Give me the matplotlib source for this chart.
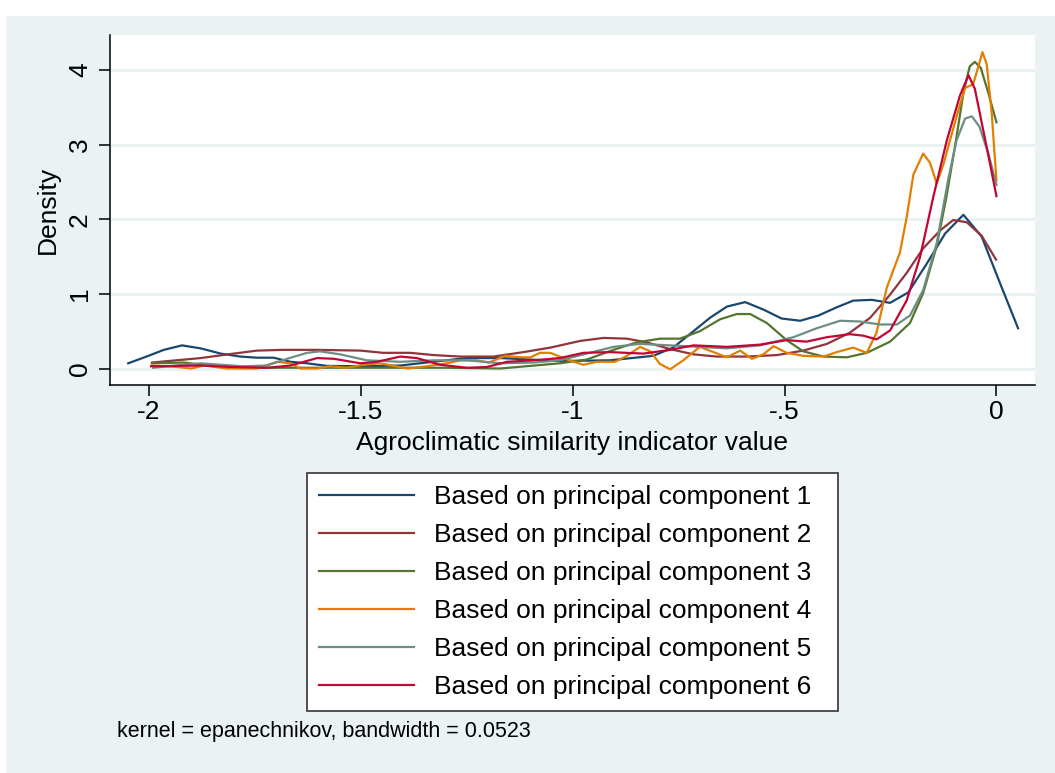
import matplotlib.pyplot as plt
from matplotlib.patches import Rectangle

plt.rcParams['font.family'] = ['Liberation Sans', 'DejaVu Sans']

# kernel density estimates, one per principal component
pc1_x = [-2.049, -2.006, -1.965, -1.922, -1.878, -1.831, -1.784, -1.745, -1.706, -1.666,
         -1.627, -1.58, -1.50, -1.407, -1.33, -1.25, -1.17, -1.10, -1.03, -0.912,
         -0.81, -0.763, -0.715, -0.676, -0.636, -0.593, -0.55, -0.507, -0.463, -0.42,
         -0.377, -0.338, -0.294, -0.251, -0.208, -0.165, -0.121, -0.078, -0.035, 0.008, 0.051]
pc1_y = [0.07, 0.16, 0.25, 0.31, 0.27, 0.20, 0.16, 0.145, 0.145, 0.09,
         0.07, 0.035, 0.03, 0.04, 0.09, 0.14, 0.14, 0.12, 0.10, 0.11,
         0.17, 0.28, 0.50, 0.68, 0.83, 0.89, 0.79, 0.67, 0.64, 0.71,
         0.82, 0.91, 0.92, 0.88, 1.02, 1.40, 1.81, 2.06, 1.77, 1.15, 0.54]

pc2_x = [-1.993, -1.878, -1.80, -1.745, -1.683, -1.603, -1.501, -1.447, -1.383, -1.328,
         -1.265, -1.187, -1.116, -1.053, -0.982, -0.927, -0.872, -0.825, -0.77, -0.715,
         -0.66, -0.589, -0.518, -0.456, -0.40, -0.346, -0.298, -0.251, -0.212, -0.173,
         -0.133, -0.102, -0.07, -0.035, -0.001]
pc2_y = [0.08, 0.14, 0.20, 0.24, 0.25, 0.25, 0.24, 0.21, 0.21, 0.18,
         0.16, 0.16, 0.22, 0.28, 0.37, 0.41, 0.40, 0.35, 0.26, 0.19,
         0.16, 0.16, 0.18, 0.24, 0.33, 0.48, 0.68, 0.99, 1.28, 1.61,
         1.85, 1.99, 1.96, 1.78, 1.46]

pc3_x = [-1.993, -1.918, -1.816, -1.70, -1.55, -1.40, -1.30, -1.171, -1.07, -1.03,
         -0.967, -0.904, -0.849, -0.794, -0.747, -0.70, -0.652, -0.613, -0.581, -0.542,
         -0.495, -0.456, -0.408, -0.353, -0.306, -0.251, -0.204, -0.173, -0.141, -0.118,
         -0.098, -0.078, -0.063, -0.051, -0.037, -0.019, 0.0]
pc3_y = [0.07, 0.08, 0.01, 0.01, 0.01, 0.01, 0.01, 0.0, 0.05, 0.07,
         0.12, 0.25, 0.35, 0.40, 0.40, 0.50, 0.66, 0.73, 0.73, 0.61,
         0.38, 0.23, 0.16, 0.15, 0.21, 0.36, 0.61, 1.01, 1.64, 2.30,
         2.97, 3.69, 4.05, 4.11, 4.03, 3.69, 3.30]

pc4_x = [-1.993, -1.933, -1.90, -1.87, -1.816, -1.745, -1.698, -1.666, -1.643, -1.603,
         -1.573, -1.533, -1.494, -1.455, -1.39, -1.344, -1.297, -1.265, -1.226, -1.198,
         -1.159, -1.124, -1.10, -1.077, -1.053, -1.013, -0.975, -0.943, -0.90, -0.872,
         -0.841, -0.817, -0.794, -0.77, -0.739, -0.70, -0.668, -0.636, -0.605, -0.577,
         -0.55, -0.526, -0.495, -0.456, -0.408, -0.377, -0.338, -0.306, -0.283, -0.259,
         -0.228, -0.212, -0.196, -0.173, -0.157, -0.141, -0.125, -0.11, -0.09, -0.074,
         -0.055, -0.043, -0.033, -0.023, -0.011, 0.0]
pc4_y = [0.04, 0.02, 0.0, 0.04, 0.0, 0.0, 0.09, 0.07, 0.0, 0.0,
         0.03, 0.01, 0.05, 0.07, 0.0, 0.03, 0.07, 0.11, 0.11, 0.08,
         0.17, 0.15, 0.15, 0.21, 0.21, 0.12, 0.05, 0.09, 0.09, 0.17,
         0.29, 0.23, 0.06, -0.01, 0.11, 0.29, 0.22, 0.15, 0.24, 0.13,
         0.19, 0.30, 0.21, 0.17, 0.16, 0.22, 0.28, 0.21, 0.48, 1.08,
         1.55, 2.02, 2.60, 2.88, 2.76, 2.48, 2.74, 3.05, 3.46, 3.76,
         3.81, 4.04, 4.24, 4.08, 3.41, 2.52]

pc5_x = [-1.99, -1.878, -1.78, -1.722, -1.674, -1.627, -1.596, -1.549, -1.486, -1.407,
         -1.329, -1.25, -1.17, -1.093, -1.03, -0.967, -0.904, -0.841, -0.77, -0.70,
         -0.636, -0.558, -0.479, -0.424, -0.369, -0.322, -0.275, -0.235, -0.204, -0.173,
         -0.141, -0.114, -0.094, -0.074, -0.058, -0.04, -0.019, 0.0]
pc5_y = [0.01, 0.07, 0.03, 0.04, 0.13, 0.21, 0.23, 0.19, 0.11, 0.09,
         0.11, 0.11, 0.07, 0.08, 0.11, 0.20, 0.29, 0.33, 0.31, 0.29,
         0.27, 0.31, 0.42, 0.54, 0.64, 0.63, 0.59, 0.59, 0.71, 1.05,
         1.68, 2.53, 3.06, 3.35, 3.38, 3.24, 2.88, 2.46]

pc6_x = [-1.995, -1.878, -1.80, -1.72, -1.666, -1.603, -1.564, -1.501, -1.462, -1.407,
         -1.368, -1.313, -1.25, -1.203, -1.155, -1.093, -1.03, -0.975, -0.912, -0.833,
         -0.77, -0.715, -0.636, -0.558, -0.495, -0.448, -0.40, -0.346, -0.314, -0.283,
         -0.251, -0.212, -0.18, -0.149, -0.117, -0.086, -0.066, -0.051, -0.031, -0.015, 0.0]
pc6_y = [0.03, 0.04, 0.02, 0.01, 0.04, 0.14, 0.13, 0.07, 0.09, 0.16,
         0.14, 0.05, 0.01, 0.02, 0.09, 0.11, 0.14, 0.21, 0.22, 0.20,
         0.25, 0.31, 0.29, 0.32, 0.38, 0.36, 0.42, 0.46, 0.44, 0.39,
         0.51, 0.91, 1.50, 2.30, 3.06, 3.66, 3.93, 3.75, 3.19, 2.74, 2.31]

series = [(pc1_x, pc1_y), (pc2_x, pc2_y), (pc3_x, pc3_y),
          (pc4_x, pc4_y), (pc5_x, pc5_y), (pc6_x, pc6_y)]
labels = ['Based on principal component %d' % i for i in range(1, 7)]
# Stata s2color palette
colors = ['#1a476f', '#90353b', '#55752f', '#e37e00', '#6e8e84', '#c10534']

xticks = [-2, -1.5, -1, -0.5, 0]
xtick_labels = ['-2', '-1.5', '-1', '-.5', '0']
yticks = [0, 1, 2, 3, 4]

bg = '#eaf2f3'
fs = 19
W, H = 1055, 773
fig = plt.figure(figsize=(W / 100, H / 100), dpi=100, facecolor='white')
fig.patches.append(Rectangle((6 / W, 0), 1, 1 - 16 / H, transform=fig.transFigure,
                             facecolor=bg, edgecolor='none', zorder=-10))

ax = fig.add_axes([110 / W, 1 - 385 / H, 925 / W, 350 / H])
ax.set_facecolor('white')
for (x, y), c, lab in zip(series, colors, labels):
    ax.plot(x, y, color=c, lw=1.6, label=lab, solid_joinstyle='round')

ax.set_xlim(-2.092, 0.091)
ax.set_ylim(-0.221, 4.47)
ax.set_xticks(xticks)
ax.set_xticklabels(xtick_labels)
ax.set_yticks(yticks)
ax.set_yticklabels([str(t) for t in yticks], rotation=90, va='center')
ax.tick_params(axis='both', direction='out', length=8, width=1.1, color='black',
               labelsize=fs)
ax.tick_params(axis='x', pad=3)
ax.tick_params(axis='y', pad=5)
ax.grid(axis='y', color=bg, lw=2.2)
ax.set_axisbelow(True)
for side in ['top', 'right']:
    ax.spines[side].set_visible(False)
for side in ['left', 'bottom']:
    ax.spines[side].set_linewidth(1.1)

ax.set_xlabel('Agroclimatic similarity indicator value', fontsize=fs, labelpad=5)
ax.set_ylabel('Density', fontsize=fs, labelpad=6)

# legend box stretched to a fixed width below the axis title
leg = fig.legend(loc='upper left', mode='expand',
                 bbox_to_anchor=(307 / W, 1 - 706 / H, 531 / W, 233 / H),
                 fontsize=fs, frameon=True, fancybox=False, handlelength=3.6,
                 handletextpad=0.76, labelspacing=0.53, borderpad=0.45,
                 borderaxespad=0)
leg.get_frame().set_edgecolor('#333333')
leg.get_frame().set_linewidth(1.2)
leg.get_frame().set_facecolor('white')
leg.get_frame().set_alpha(1)

fig.text(117 / W, 1 - 732 / H, 'kernel = epanechnikov, bandwidth = 0.0523',
         fontsize=15.5, va='center', ha='left')

fig.savefig('out.png', dpi=100, facecolor=fig.get_facecolor())
